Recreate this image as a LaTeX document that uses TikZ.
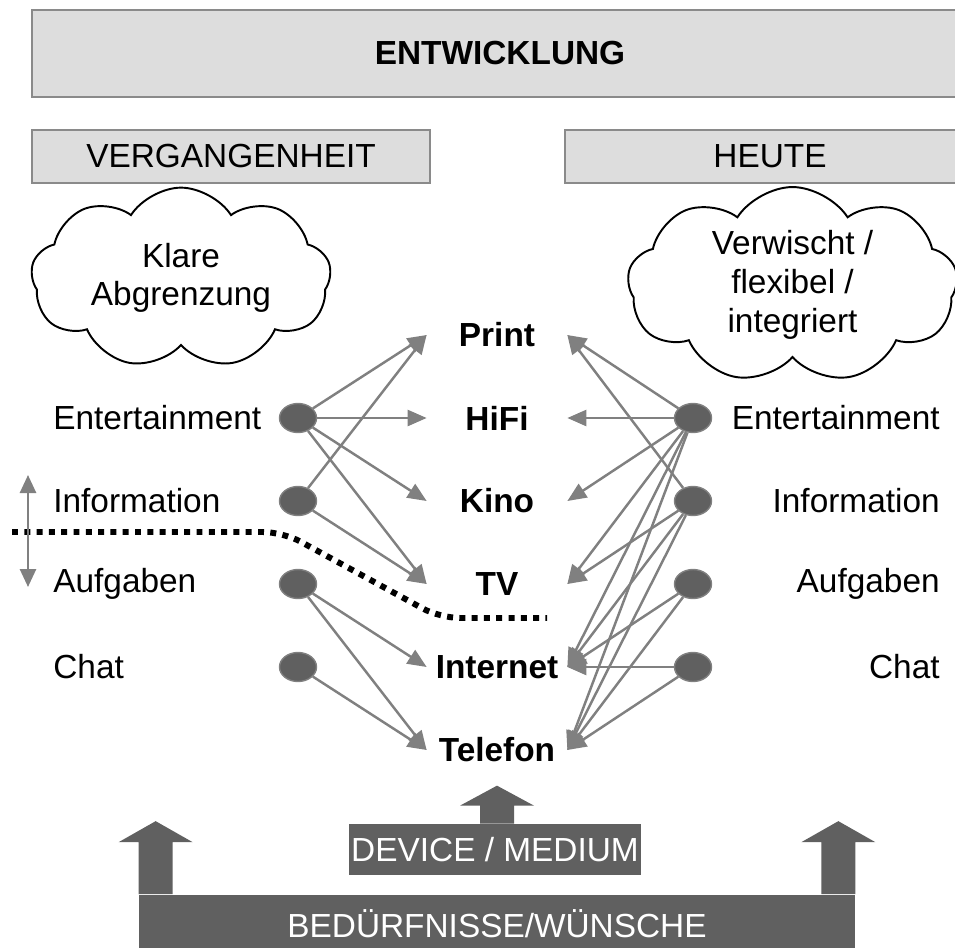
\documentclass[tikz,border=0pt]{standalone}
\usepackage{fontspec}
\setmainfont{Liberation Sans}
\usetikzlibrary{arrows.meta,shapes.symbols,shapes.geometric}

\definecolor{boxgray}{RGB}{221,221,221}
\definecolor{framegray}{RGB}{138,138,138}
\definecolor{linegray}{RGB}{128,128,128}
\definecolor{dotgray}{RGB}{96,96,96}
\definecolor{blockgray}{RGB}{96,96,96}

\begin{document}
\begin{tikzpicture}[font=\fontsize{19}{22}\selectfont]
        % Define styles
        \tikzset{
            headbox/.style={rectangle, draw=framegray, fill=boxgray, line width=1.2pt},
            cloudbox/.style={cloud, draw=black, fill=white, line width=1.1pt, cloud puffs=9, cloud puff arc=115, aspect=1.8, align=center, inner sep=0pt},
            usage/.style={inner sep=0pt},
            media/.style={rectangle, minimum width=2.8cm, inner sep=0pt, font=\fontsize{19}{22}\selectfont\bfseries},
            dot/.style={ellipse, draw=linegray, fill=dotgray, line width=0.8pt, minimum width=0.74cm, minimum height=0.58cm, inner sep=0pt},
            arrow/.style={-{Triangle[length=0.38cm,width=0.32cm]}, draw=linegray, fill=linegray, line width=1.4pt},
            block/.style={fill=blockgray, text=white, inner sep=0pt}
        }

        \useasboundingbox (0,0) rectangle (19.1,-18.96);
        \clip (0,0) rectangle (19.1,-18.96);

        % Header boxes
        \node[headbox, minimum width=18.72cm, minimum height=1.74cm] (entwicklung) at (10,-1.07) {\textbf{ENTWICKLUNG}};
        \node[headbox, minimum width=7.96cm, minimum height=1.06cm] (past) at (4.62,-3.13) {VERGANGENHEIT};
        \node[headbox, minimum width=8.2cm, minimum height=1.06cm] (today) at (15.4,-3.13) {HEUTE};

        % Clouds
        \node[cloudbox, minimum width=6cm, minimum height=3.3cm] (cloud_past) at (3.62,-5.56) {Klare\\Abgrenzung};
        \node[cloudbox, minimum width=6.6cm, minimum height=3.5cm] (cloud_today) at (15.85,-5.7) {Verwischt /\\flexibel /\\integriert};

        % Left side
        \node[usage, anchor=west] (ent_l) at (1.06,-8.36) {Entertainment};
        \node[usage, anchor=west] (info_l) at (1.06,-10.02) {Information};
        \node[usage, anchor=west] (task_l) at (1.06,-11.68) {Aufgaben};
        \node[usage, anchor=west] (chat_l) at (1.06,-13.34) {Chat};
        \node[dot] (ent_dot_l) at (5.96,-8.36) {};
        \node[dot] (info_dot_l) at (5.96,-10.02) {};
        \node[dot] (task_dot_l) at (5.96,-11.68) {};
        \node[dot] (chat_dot_l) at (5.96,-13.34) {};

        % Right side
        \node[usage, anchor=east] (ent_r) at (18.8,-8.36) {Entertainment};
        \node[usage, anchor=east] (info_r) at (18.8,-10.02) {Information};
        \node[usage, anchor=east] (task_r) at (18.8,-11.68) {Aufgaben};
        \node[usage, anchor=east] (chat_r) at (18.8,-13.34) {Chat};
        \node[dot] (ent_dot_r) at (13.86,-8.36) {};
        \node[dot] (info_dot_r) at (13.86,-10.02) {};
        \node[dot] (task_dot_r) at (13.86,-11.68) {};
        \node[dot] (chat_dot_r) at (13.86,-13.34) {};

        % Media
        \node[media] (print) at (9.94,-6.7) {Print};
        \node[media] (hifi) at (9.94,-8.36) {HiFi};
        \node[media] (kino) at (9.94,-10.02) {Kino};
        \node[media] (tv) at (9.94,-11.68) {TV};
        \node[media] (internet) at (9.94,-13.34) {Internet};
        \node[media] (telefon) at (9.94,-15.0) {Telefon};

        % Arrows past
        \draw[arrow] (ent_dot_l) -- (print.west);
        \draw[arrow] (ent_dot_l) -- (hifi.west);
        \draw[arrow] (ent_dot_l) -- (kino.west);
        \draw[arrow] (ent_dot_l) -- (tv.west);
        \draw[arrow] (info_dot_l) -- (print.west);
        \draw[arrow] (info_dot_l) -- (tv.west);
        \draw[arrow] (task_dot_l) -- (internet.west);
        \draw[arrow] (task_dot_l) -- (telefon.west);
        \draw[arrow] (chat_dot_l) -- (telefon.west);

        % Arrows today
        \draw[arrow] (ent_dot_r) -- (print.east);
        \draw[arrow] (ent_dot_r) -- (hifi.east);
        \draw[arrow] (ent_dot_r) -- (kino.east);
        \draw[arrow] (ent_dot_r) -- (tv.east);
        \draw[arrow] (ent_dot_r) -- (internet.east);
        \draw[arrow] (ent_dot_r) -- (telefon.east);
        \draw[arrow] (info_dot_r) -- (print.east);
        \draw[arrow] (info_dot_r) -- (tv.east);
        \draw[arrow] (info_dot_r) -- (internet.east);
        \draw[arrow] (info_dot_r) -- (telefon.east);
        \draw[arrow] (task_dot_r) -- (internet.east);
        \draw[arrow] (task_dot_r) -- (telefon.east);
        \draw[arrow] (chat_dot_r) -- (internet.east);
        \draw[arrow] (chat_dot_r) -- (telefon.east);

        % Border line
        \draw[line width=3.4pt, dash pattern=on 3.4pt off 3.6pt, rounded corners=0.4cm] (0.24,-10.64) -- (5.66,-10.64) -- (8.8,-12.36) -- (10.94,-12.36);
        \coordinate (shift_top) at (0.56,-9.5);
        \coordinate (shift_bottom) at (0.56,-11.74);
        \draw[{Triangle[length=0.36cm,width=0.32cm]}-{Triangle[length=0.36cm,width=0.32cm]}, draw=linegray, fill=linegray, line width=1.5pt] (shift_top) -- (shift_bottom);

        % Bottom blocks
        \node[block, minimum width=5.84cm, minimum height=1.02cm] (device) at (9.9,-16.99) {DEVICE / MEDIUM};
        \fill[blockgray] ([xshift=-0.3cm]device.north) -- ++(0,0.36) -- ++(-0.4,0) -- ++(0.74,0.4) -- ++(0.74,-0.4) -- ++(-0.4,0) -- ++(0,-0.36) -- cycle;
        \node[block, minimum width=14.32cm, minimum height=1.18cm] (needs) at (9.94,-18.48) {BEDÜRFNISSE/WÜNSCHE};
        \fill[blockgray] (needs.north west) -- ++(0,1.04) -- ++(-0.4,0) -- ++(0.74,0.42) -- ++(0.74,-0.42) -- ++(-0.4,0) -- ++(0,-1.04) -- cycle;
        \fill[blockgray] (needs.north east) -- ++(0,1.04) -- ++(0.4,0) -- ++(-0.74,0.42) -- ++(-0.74,-0.42) -- ++(0.4,0) -- ++(0,-1.04) -- cycle;
    \end{tikzpicture}
\end{document}
